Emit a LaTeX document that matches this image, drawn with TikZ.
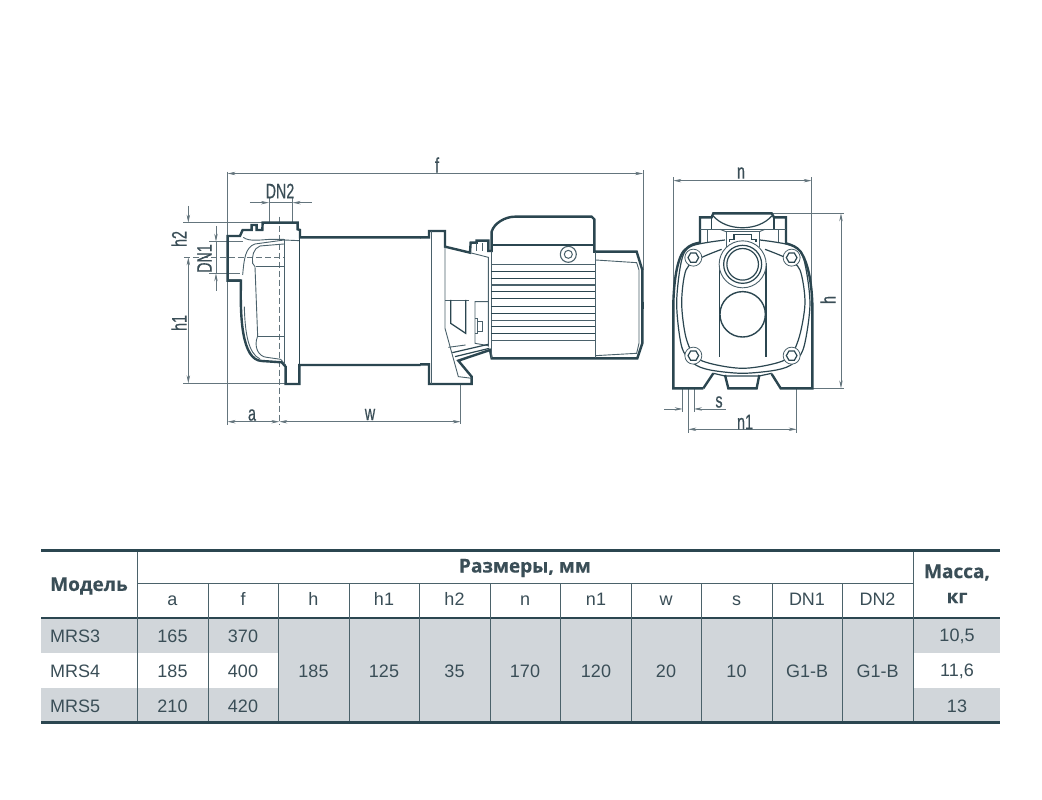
\documentclass[tikz,border=0pt]{standalone}
\usepackage{fontspec}
\setmainfont{Liberation Sans}
\newfontfamily\headfont{Open Sans}[BoldFont={Open Sans Bold},BoldFeatures={FakeBold=0.3}]
\newfontfamily\dimfont{Liberation Sans}[FakeBold=0.6]
\usetikzlibrary{arrows.meta}
\definecolor{ink}{HTML}{2B4650}
\definecolor{thinink}{HTML}{4A616B}
\definecolor{dimc}{HTML}{64757D}
\definecolor{rowc}{HTML}{D1D6DA}
\definecolor{txt}{HTML}{3A4E57}
\tikzset{
  >={Stealth[length=8pt,width=3.4pt]},
  thick outline/.style={draw=ink,line width=2.4pt,line join=miter},
  thin outline/.style={draw=thinink,line width=0.9pt},
  mid outline/.style={draw=ink,line width=1.2pt},
  dimline/.style={draw=dimc,line width=0.7pt},
  centerline/.style={draw=dimc,line width=0.7pt,dash pattern=on 6pt off 3pt},
  dimtext/.style={text=txt,font=\dimfont\fontsize{21}{22}\selectfont,inner sep=0pt,xscale=0.68},
  cell/.style={text=txt,font=\fontsize{18}{20}\selectfont,inner sep=0pt},
  headb/.style={text=txt,font=\headfont\bfseries\fontsize{19}{20}\selectfont,inner sep=0pt},
  tabrule/.style={draw=ink!85,line width=0.8pt},
  tabmid/.style={draw=ink,line width=1.3pt},
  tabheavy/.style={draw=ink,line width=3pt},
}
\begin{document}
\begin{tikzpicture}[x=1pt,y=-1pt]
\fill[white] (0,0) rectangle (1042,800);
\useasboundingbox (0,0) rectangle (1042,800);

% ---------- side view, left part (coordinates of zoom 1)
\begin{scope}[shift={(160,160)},x=0.3333pt,y=-0.3333pt]
  \draw[dimline] (203,35) -- (203,795);
  \draw[dimline] (70,188) -- (310,188);
  \draw[dimline] (70,670) -- (378,670);
  \draw[dimline] (148,245) -- (250,245);
  \draw[dimline] (148,340) -- (240,340);
  \draw[dimline] (327,115) -- (327,188);
  \draw[dimline] (398,115) -- (398,188);
  \draw[dimline,->] (270,128) -- (327,128);
  \draw[dimline,->] (455,128) -- (398,128);
  \draw[dimline] (327,128) -- (398,128);
  \draw[dimline,->] (85,138) -- (85,188);
  \draw[dimline,<-] (85,292) -- (85,350);
  \draw[dimline,->] (85,350) -- (85,670);
  \draw[dimline,->] (168,198) -- (168,245);
  \draw[dimline,<-] (168,340) -- (168,392);
  \draw[dimline] (168,245) -- (168,340);
  \draw[centerline] (72,292) -- (372,292);
  \draw[centerline] (358,170) -- (358,795);
  % outline
  \draw[thick outline] (243,362) -- (203,362) -- (203,228) -- (240,228) -- (248,210) -- (275,210) -- (275,195) -- (290,195) -- (290,210) -- (307,210) -- (308,188) -- (413,188) -- (413,208) -- (420,210) -- (420,232) -- (782,232);
  \draw[thick outline] (203,362) -- (243,362) .. controls (240,470) and (245,600) .. (305,603) -- (365,607) -- (377,620) -- (377,672) -- (418,672) -- (418,615) -- (782,615);
  % inner lines
  \draw[thin outline] (248,345) .. controls (252,300) and (255,262) .. (285,252) -- (372,240) -- (418,242);
  \draw[thin outline] (250,232) .. controls (265,245) and (300,240) .. (330,238) -- (372,238);
  \draw[thin outline] (372,238) -- (372,610);
  \draw[mid outline] (418,232) -- (418,615);
  \draw[thin outline] (372,252) -- (300,258) .. controls (280,265) and (275,290) .. (278,310) -- (285,320) -- (293,528);
  \draw[thin outline] (288,318) -- (372,318);
  \draw[thin outline] (293,528) -- (372,528);
  \draw[thin outline] (293,528) .. controls (280,560) and (295,590) .. (320,592) -- (362,598) -- (377,615);
  \draw[thin outline] (253,440) .. controls (255,520) and (265,580) .. (300,597);
\end{scope}

% ---------- side view, right part (coordinates of zoom 2)
\begin{scope}[shift={(420,200)},x=0.3333pt,y=-0.3333pt]
  \draw[dimline] (122,552) -- (122,672);
  \draw[dimline] (670,-90) -- (670,210);
  \draw[thick outline] (0,112) -- (27,112) -- (27,93) -- (75,93) -- (75,140) -- (150,158) -- (152,128) -- (170,128) -- (170,122) -- (205,122) -- (205,153) -- (215,153) -- (215,95) .. controls (222,70) and (255,50) .. (285,50) -- (515,50) -- (523,58) -- (523,155) -- (650,155) -- (667,210) -- (667,430) -- (652,475) -- (215,475) -- (210,450) -- (115,482) -- (155,530) -- (155,552) -- (27,552) -- (27,493) -- (0,493);
  \draw[thick outline] (667,305) -- (667,328);
  % flange and bracket
  \draw[thin outline] (33,93) -- (33,552);
  \draw[thin outline] (75,140) -- (75,385) -- (115,530) -- (155,535);
  \draw[thin outline] (150,158) -- (205,172) -- (205,440);
  \draw[thin outline] (213,153) -- (213,475);
  \draw[thin outline] (170,128) -- (170,152);
  \draw[thin outline] (186,128) -- (186,152);
  \draw[thin outline] (75,300) -- (146,300);
  \draw[mid outline] (92,300) -- (92,370) -- (137,400) -- (137,300);
  \draw[thin outline] (137,435) -- (85,442);
  \draw[thin outline] (205,305) -- (165,305) -- (165,430) -- (205,437);
  \draw[thin outline] (165,355) -- (172,355) -- (172,400) -- (165,400);
  \draw[thin outline] (172,365) rectangle (187,395);
  \draw[mid outline] (97,458) -- (205,433);
  \draw[mid outline] (105,470) -- (208,445);
  % motor
  \draw[mid outline] (215,135) -- (523,135);
  \foreach \yy in {215,235,275,295,320,340,380,400}{\draw[draw=ink,line width=1.1pt] (213,\yy) -- (525,\yy);}
  \foreach \yy in {193,255,362,422}{\draw[draw=thinink,line width=1.4pt] (213,\yy) -- (525,\yy);}
  \draw[thin outline] (527,155) -- (527,475);
  \draw[thin outline] (527,180) -- (650,188) -- (657,210) -- (657,430) -- (650,460) -- (527,467);
  \node[draw=thinink,line width=1.1pt,circle,minimum size=16pt,inner sep=0pt] (boss) at (445,163) {};
  \node[draw=thinink,line width=1pt,circle,minimum size=8pt,inner sep=0pt] (bossin) at (445,163) {};
\end{scope}

% ---------- end view (coordinates of zoom 3)
\begin{scope}[shift={(650,160)},x=0.3333pt,y=-0.3333pt]
  \draw[dimline] (70,52) -- (70,685);
  \draw[dimline] (485,52) -- (485,685);
  \draw[dimline] (365,160) -- (582,160);
  \draw[dimline] (487,685) -- (582,685);
  \draw[dimline] (98,685) -- (98,755);
  \draw[dimline] (132,685) -- (132,755);
  \draw[dimline] (115,685) -- (115,818);
  \draw[dimline] (440,685) -- (440,818);
  \draw[dimline,<->] (70,62) -- (485,62);
  \draw[dimline,<->] (573,160) -- (573,685);
  \draw[dimline,<->] (115,808) -- (440,808);
  \draw[dimline,->] (42,747) -- (98,747);
  \draw[dimline,->] (228,747) -- (132,747);
  % outer shape
  \draw[thick outline] (160,685) -- (70,685) -- (70,430) .. controls (72,350) and (85,280) .. (110,265) .. controls (120,255) and (135,250) .. (150,248) -- (150,172) -- (185,172) -- (190,160) -- (365,160) -- (372,172) -- (408,172) -- (408,250) .. controls (425,255) and (440,260) .. (452,275) .. controls (475,310) and (485,370) .. (487,430) -- (487,685) -- (392,685) -- (365,642);
  \draw[thick outline] (160,685) -- (190,640);
  \draw[thick outline] (225,645) -- (235,685) -- (320,685) -- (328,645);
  \draw[mid outline] (190,640) -- (225,648) -- (328,648) -- (365,640);
  % top
  \draw[thin outline] (150,208) -- (408,208);
  \draw[mid outline] (185,172) -- (185,208);
  \draw[mid outline] (372,172) -- (372,208);
  \draw[mid outline] (190,168) .. controls (230,215) and (325,215) .. (365,168);
  \draw[thin outline] (172,208) -- (172,245);
  \draw[thin outline] (385,208) -- (385,245);
  \draw[thin outline] (210,208) -- (228,215);
  \draw[thin outline] (345,208) -- (328,215);
  \draw[thin outline] (228,260) -- (228,215) -- (328,215) -- (328,260);
  \draw[mid outline] (238,245) -- (238,238) -- (252,238) -- (252,224) -- (305,224) -- (305,238) -- (318,238) -- (318,245);
  % plate
  \draw[mid outline] plot[smooth] coordinates {(225,240) (125,258) (95,300) (80,430) (95,560) (130,610) (180,630) (278,640) (380,630) (430,610) (462,560) (480,430) (462,300) (430,258) (330,240)};
  \draw[mid outline] plot[smooth] coordinates {(215,268) (150,295) (108,330) (95,430) (110,540) (150,600) (278,625) (405,600) (445,540) (465,430) (450,330) (410,295) (345,268)};
  % bolts
  \foreach \bx/\by/\bn in {130/293/a,425/293/b,130/587/c,425/587/d}{
    \node[draw=thinink,line width=0.8pt,circle,minimum size=17pt,inner sep=0pt,fill=white] (bolt\bn) at (\bx,\by) {};
    \draw[mid outline] (\bx+16,\by) -- (\bx+8,\by-14) -- (\bx-8,\by-14) -- (\bx-16,\by) -- (\bx-8,\by+14) -- (\bx+8,\by+14) -- cycle;
  }
  % bores
  \draw[mid outline] (208,590) -- (208,310);
  \draw[mid outline] (348,590) -- (348,310);
  \draw[thin outline,fill=white] (278,313) circle[radius=23.5pt];
  \draw[mid outline] (278,313) circle[radius=19pt];
  \draw[mid outline] (278,313) circle[radius=15.8pt];
  \draw[draw=ink,line width=1.4pt,fill=white] (278,463) circle[radius=22.7pt];
\end{scope}

% ---------- dimensions across the views
\draw[dimline,<->] (227.5,173.5) -- (643,173.5);
\draw[dimline,<->] (227.5,421.7) -- (279.3,421.7);
\draw[dimline,<->] (279.3,421.7) -- (460.7,421.7);

\node[dimtext] (lf) at (437,165) {f};
\node[dimtext] (ldn2) at (280,191) {DN2};
\node[rotate=90,dimtext] (lh2) at (179,239) {h2};
\node[rotate=90,dimtext] (lh1) at (179,323) {h1};
\node[rotate=90,dimtext] (ldn1) at (204.5,258.5) {DN1};
\node[dimtext] (la) at (252,415) {a};
\node[dimtext] (lw) at (370,414.5) {w};
\node[dimtext] (ln) at (741,173) {n};
\node[rotate=90,dimtext] (lh) at (828,300) {h};
\node[dimtext] (ls) at (719,402) {s};
\node[dimtext] (ln1) at (745,422) {n1};

% ---------- table
\fill[rowc] (41,618) rectangle (1000,653);
\fill[rowc] (41,688) rectangle (1000,722);
\fill[rowc] (278.5,618) rectangle (913,722);

\draw[tabrule] (137,583.5) -- (913,583.5);
\draw[tabmid] (41,618) -- (1000,618);
\foreach \xx in {208,278.5,349,419.5,490,560.5,631,701.5,772,842}{\draw[tabrule] (\xx,583.5) -- (\xx,722);}
\draw[tabrule] (137.3,550) -- (137.3,722);
\draw[tabrule] (913,550) -- (913,722);
\draw[tabheavy] (41,550) -- (1000,550);
\draw[tabheavy] (41,722.5) -- (1000,722.5);

\node[headb] (hmodel) at (89,586) {\bfseries Модель};
\node[headb] (hsize) at (525,568) {\bfseries Размеры, мм};
\node[headb] (hmass) at (957,572.5) {\bfseries Масса,};
\node[headb] (hkg) at (957,598) {\bfseries кг};

\foreach \cx/\ct/\cn in {172.5/a/a,243/f/f,313.5/h/h,384/h1/ha,454.5/h2/hb,525/n/n,596/n1/na,666/w/w,736.5/s/s,807/DN1/da,877.5/DN2/db}{
  \node[cell] (col\cn) at (\cx,601.5) {\strut\ct};
}
\node[cell,anchor=west] (m3) at (50,636.5) {MRS3};
\node[cell,anchor=west] (m4) at (50,671.5) {MRS4};
\node[cell,anchor=west] (m5) at (50,706.5) {MRS5};
\node[cell] (a3) at (172.5,636.5) {165};
\node[cell] (a4) at (172.5,671.5) {185};
\node[cell] (a5) at (172.5,706.5) {210};
\node[cell] (f3) at (243,636.5) {370};
\node[cell] (f4) at (243,671.5) {400};
\node[cell] (f5) at (243,706.5) {420};
\foreach \cx/\ct/\cn in {313.5/185/h,384/125/ha,454.5/35/hb,525/170/n,596/120/na,666/20/w,736.5/10/s,807/G1-B/da,877.5/G1-B/db}{
  \node[cell] (v\cn) at (\cx,671.5) {\ct};
}
\node[cell] (w3) at (957,636.5) {10,5};
\node[cell] (w4) at (957,671.5) {11,6};
\node[cell] (w5) at (957,706.5) {13};
\end{tikzpicture}
\end{document}
